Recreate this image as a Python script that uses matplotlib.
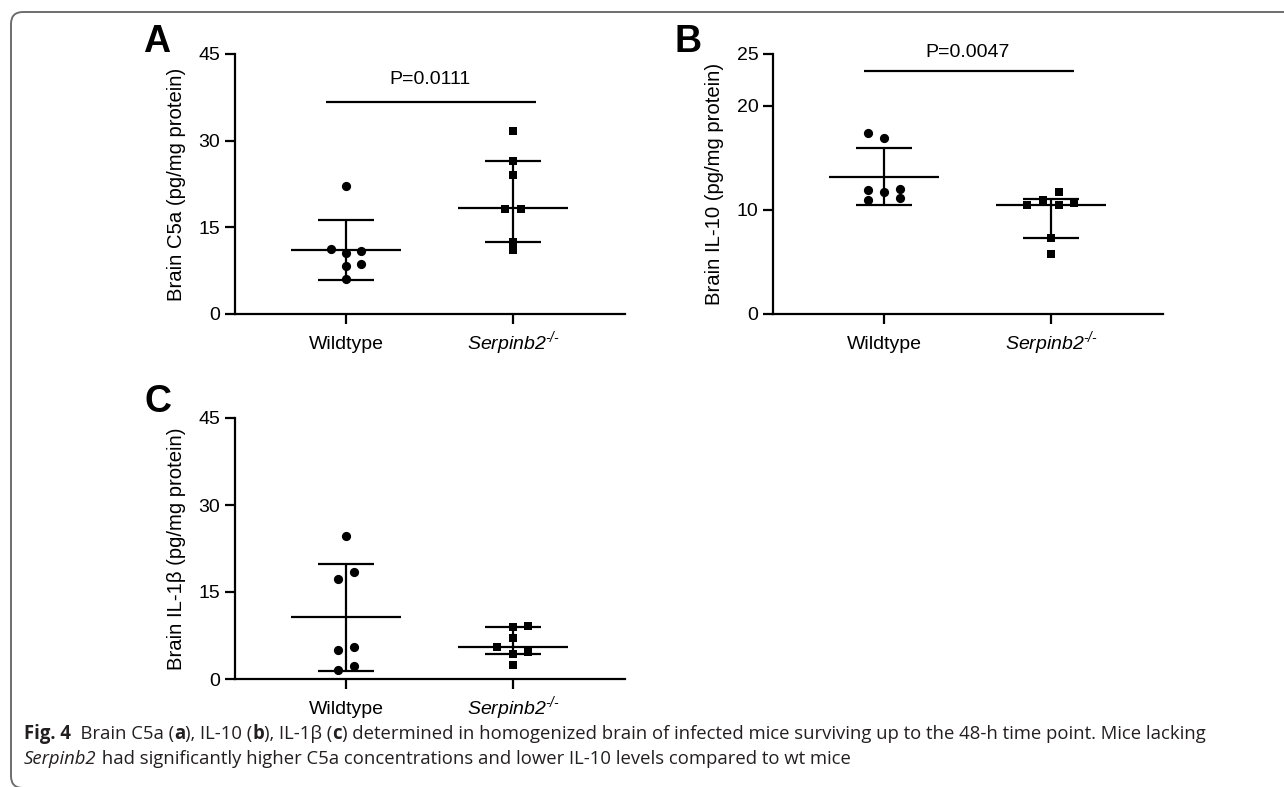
import matplotlib
matplotlib.use('Agg')
import matplotlib.pyplot as plt
from matplotlib.path import Path
from matplotlib.patches import PathPatch

plt.rcParams['font.family'] = ['Liberation Sans', 'DejaVu Sans']
plt.rcParams['mathtext.fontset'] = 'custom'
plt.rcParams['mathtext.rm'] = 'Liberation Sans:italic'
plt.rcParams['mathtext.it'] = 'Liberation Sans:italic'
plt.rcParams['mathtext.bf'] = 'Liberation Sans:bold'

groups = ['Wildtype', r'$\mathit{Serpinb2}^{\text{-/-}}$']

# panel A - C5a
c5a_wt = [22.2, 11.25, 10.5, 10.85, 8.3, 8.65, 6.0]
c5a_wt_dx = [0, -0.09, 0, 0.09, 0, 0.09, 0]
c5a_ko = [31.7, 26.5, 24.1, 18.1, 18.2, 12.5, 11.1]
c5a_ko_dx = [0, 0, 0, -0.05, 0.05, 0, 0]
c5a_stats = [(11.1, 16.3, 5.9), (18.3, 26.5, 12.5)]  # centre, upper, lower
c5a_p = 'P=0.0111'

# panel B - IL-10
il10_wt = [17.4, 16.9, 11.9, 11.75, 12.0, 11.0, 11.2]
il10_wt_dx = [-0.095, 0, -0.095, 0, 0.095, -0.095, 0.095]
il10_ko = [11.7, 11.0, 10.5, 10.5, 10.7, 7.3, 5.76]
il10_ko_dx = [0.046, -0.048, -0.144, 0.046, 0.14, 0, 0]
il10_stats = [(13.2, 16.0, 10.5), (10.5, 11.1, 7.3)]
il10_p = 'P=0.0047'

# panel C - IL-1beta
il1b_wt = [24.7, 18.4, 17.3, 5.06, 5.47, 2.24, 1.5]
il1b_wt_dx = [0, 0.046, -0.048, -0.048, 0.046, 0.046, -0.048]
il1b_ko = [9.03, 9.2, 7.0, 5.6, 4.3, 4.6, 2.47]
il1b_ko_dx = [0, 0.092, 0, -0.094, 0, 0.092, 0]
il1b_stats = [(10.7, 19.85, 1.43), (5.6, 9.0, 4.3)]

W, H = 1284, 787
fig = plt.figure(figsize=(W / 100, H / 100), dpi=100)


def make_axes(left, top, width=390, height=260):
    return fig.add_axes([left / W, 1 - (top + height) / H, width / W, height / H])


def panel(ax, wt, wt_dx, ko, ko_dx, stats, ymax, yticks, ylabel, p=None, p_y=None, bar_y=None):
    lw = 1.6
    for i, (vals, dx, mk, ms) in enumerate([(wt, wt_dx, 'o', 44), (ko, ko_dx, 's', 38)]):
        ax.scatter([i + d for d in dx], vals, marker=mk, s=ms, color='black',
                   linewidths=0, zorder=3, clip_on=False)
        c, hi, lo = stats[i]
        ax.hlines(c, i - 0.33, i + 0.33, color='black', lw=lw)
        ax.hlines([hi, lo], i - 0.17, i + 0.17, color='black', lw=lw)
        ax.vlines(i, lo, hi, color='black', lw=lw)
    if p:
        ax.hlines(bar_y, -0.12, 1.135, color='black', lw=lw)
        ax.text(0.5, p_y, p, ha='center', va='center', fontsize=14)
    ax.set_xlim(-0.665, 1.67)
    ax.set_ylim(0, ymax)
    ax.set_yticks(yticks)
    ax.set_xticks([0, 1])
    ax.set_xticklabels(groups)
    for lab in ax.get_xticklabels():
        lab.set_verticalalignment('baseline')
    for s in ['top', 'right']:
        ax.spines[s].set_visible(False)
    for s in ['left', 'bottom']:
        ax.spines[s].set_linewidth(1.6)
    ax.tick_params(axis='both', direction='out', length=7.5, width=1.6, labelsize=14)
    ax.tick_params(axis='y', pad=3)
    ax.tick_params(axis='x', pad=17.5)
    ax.set_ylabel(ylabel, fontsize=14.6)
    ax.yaxis.set_label_coords(-0.125, 0.5)


axA = make_axes(235, 54)
panel(axA, c5a_wt, c5a_wt_dx, c5a_ko, c5a_ko_dx, c5a_stats, 45, [0, 15, 30, 45],
      'Brain C5a (pg/mg protein)', c5a_p, 40.5, 36.7)

axB = make_axes(773, 54)
panel(axB, il10_wt, il10_wt_dx, il10_ko, il10_ko_dx, il10_stats, 25, [0, 10, 20, 25],
      'Brain IL-10 (pg/mg protein)', il10_p, 25.1, 23.4)

axC = make_axes(235, 418, height=261)
panel(axC, il1b_wt, il1b_wt_dx, il1b_ko, il1b_ko_dx, il1b_stats, 45, [0, 15, 30, 45],
      'Brain IL-1β (pg/mg protein)')

for lab, x, y in [('A', 157, 42), ('B', 688, 42), ('C', 158, 402)]:
    fig.text(x / W, 1 - y / H, lab, fontsize=27, fontweight='bold', ha='center', va='center')

# frame: top and left edges with rounded corners, open on the right
r = 12
x0, y0, y1 = 11, 12, 788
pts = [(W + 20, y0), (x0 + r, y0), (x0, y0), (x0, y0 + r), (x0, y1 - r), (x0, y1),
       (x0 + r, y1), (W + 20, y1)]
codes = [Path.MOVETO, Path.LINETO, Path.CURVE3, Path.CURVE3, Path.LINETO,
         Path.CURVE3, Path.CURVE3, Path.LINETO]
verts = [(px / W, 1 - py / H) for px, py in pts]
fig.patches.append(PathPatch(Path(verts, codes), transform=fig.transFigure, fill=False,
                             edgecolor='#6e6e6e', lw=1.4, clip_on=False))

# caption
cap1 = [('Fig. 4', 'bold'), ('  Brain C5a (', 'normal'), ('a', 'bold'), ('), IL-10 (', 'normal'),
        ('b', 'bold'), ('), IL-1β (', 'normal'), ('c', 'bold'),
        (') determined in homogenized brain of infected mice surviving up to the 48-h time point. Mice lacking', 'normal')]
cap2 = [('Serpinb2', 'italic'), (' had significantly higher C5a concentrations and lower IL-10 levels compared to wt mice', 'normal')]

renderer = fig.canvas.get_renderer()


def rich_line(parts, x, y, size=13.35):
    for s, style in parts:
        t = fig.text(x / W, 1 - y / H, s, fontsize=size, va='baseline', ha='left',
                     family=['Open Sans', 'DejaVu Sans'],
                     fontweight='bold' if style == 'bold' else 'normal',
                     fontstyle='italic' if style == 'italic' else 'normal',
                     color='#231f20')
        bb = t.get_window_extent(renderer)
        x += bb.width


rich_line(cap1, 24, 739)
rich_line(cap2, 24, 764)

fig.savefig('out.png', dpi=100)
